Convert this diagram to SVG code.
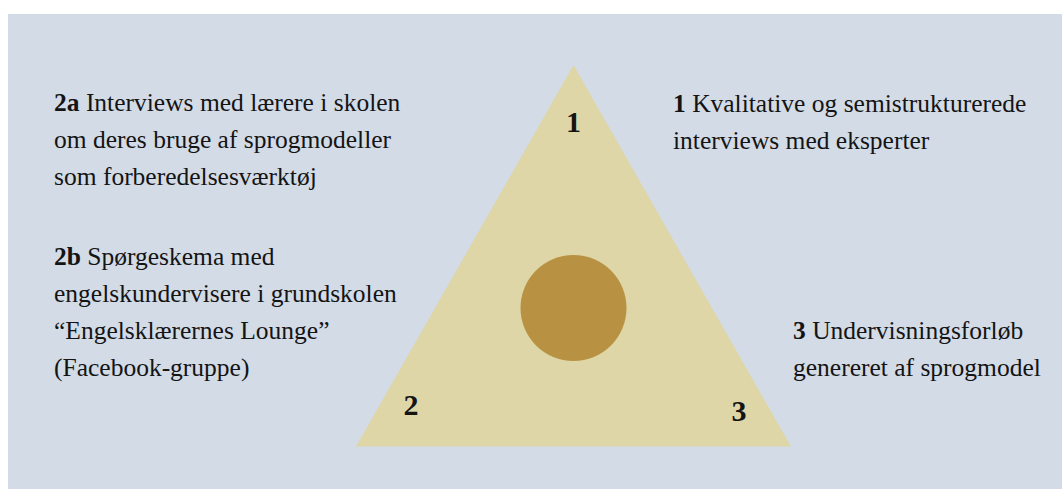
<svg xmlns="http://www.w3.org/2000/svg" width="1062" height="489" viewBox="0 0 1062 489">
  <style>
    .txt { font-family: "Liberation Serif", "Times New Roman", serif; font-size: 25.5px; fill: #141414; }
    .b { font-weight: bold; }
    .num { font-family: "Liberation Serif", "Times New Roman", serif; font-size: 30px; font-weight: bold; fill: #141414; text-anchor: middle; }
  </style>
  <rect x="0" y="0" width="1062" height="489" fill="#ffffff"/>
  <rect id="background" x="8" y="14" width="1054" height="475" fill="#d3dbe7"/>

  <g id="triangle">
    <polygon points="573.5,65 356,446.5 791,446.5" fill="#ded6a6"/>
    <text class="num" x="573.5" y="132">1</text>
    <text class="num" x="411" y="415">2</text>
    <text class="num" x="739" y="421">3</text>
  </g>

  <g id="center">
    <circle cx="573.5" cy="308" r="53" fill="#b89242"/>
  </g>

  <g id="label-2a">
    <text class="txt" x="54" y="111"><tspan class="b">2a</tspan> Interviews med lærere i skolen</text>
    <text class="txt" x="54" y="148">om deres bruge af sprogmodeller</text>
    <text class="txt" x="54" y="185">som forberedelsesværktøj</text>
  </g>

  <g id="label-2b">
    <text class="txt" x="54" y="265"><tspan class="b">2b</tspan> Spørgeskema med</text>
    <text class="txt" x="54" y="302">engelskundervisere i grundskolen</text>
    <text class="txt" x="54" y="339">“Engelsklærernes Lounge”</text>
    <text class="txt" x="54" y="376">(Facebook-gruppe)</text>
  </g>

  <g id="label-1">
    <text class="txt" x="673" y="112"><tspan class="b">1</tspan> Kvalitative og semistrukturerede</text>
    <text class="txt" x="673" y="149">interviews med eksperter</text>
  </g>

  <g id="label-3">
    <text class="txt" x="793" y="339"><tspan class="b">3</tspan> Undervisningsforløb</text>
    <text class="txt" x="793" y="376">genereret af sprogmodel</text>
  </g>
</svg>
